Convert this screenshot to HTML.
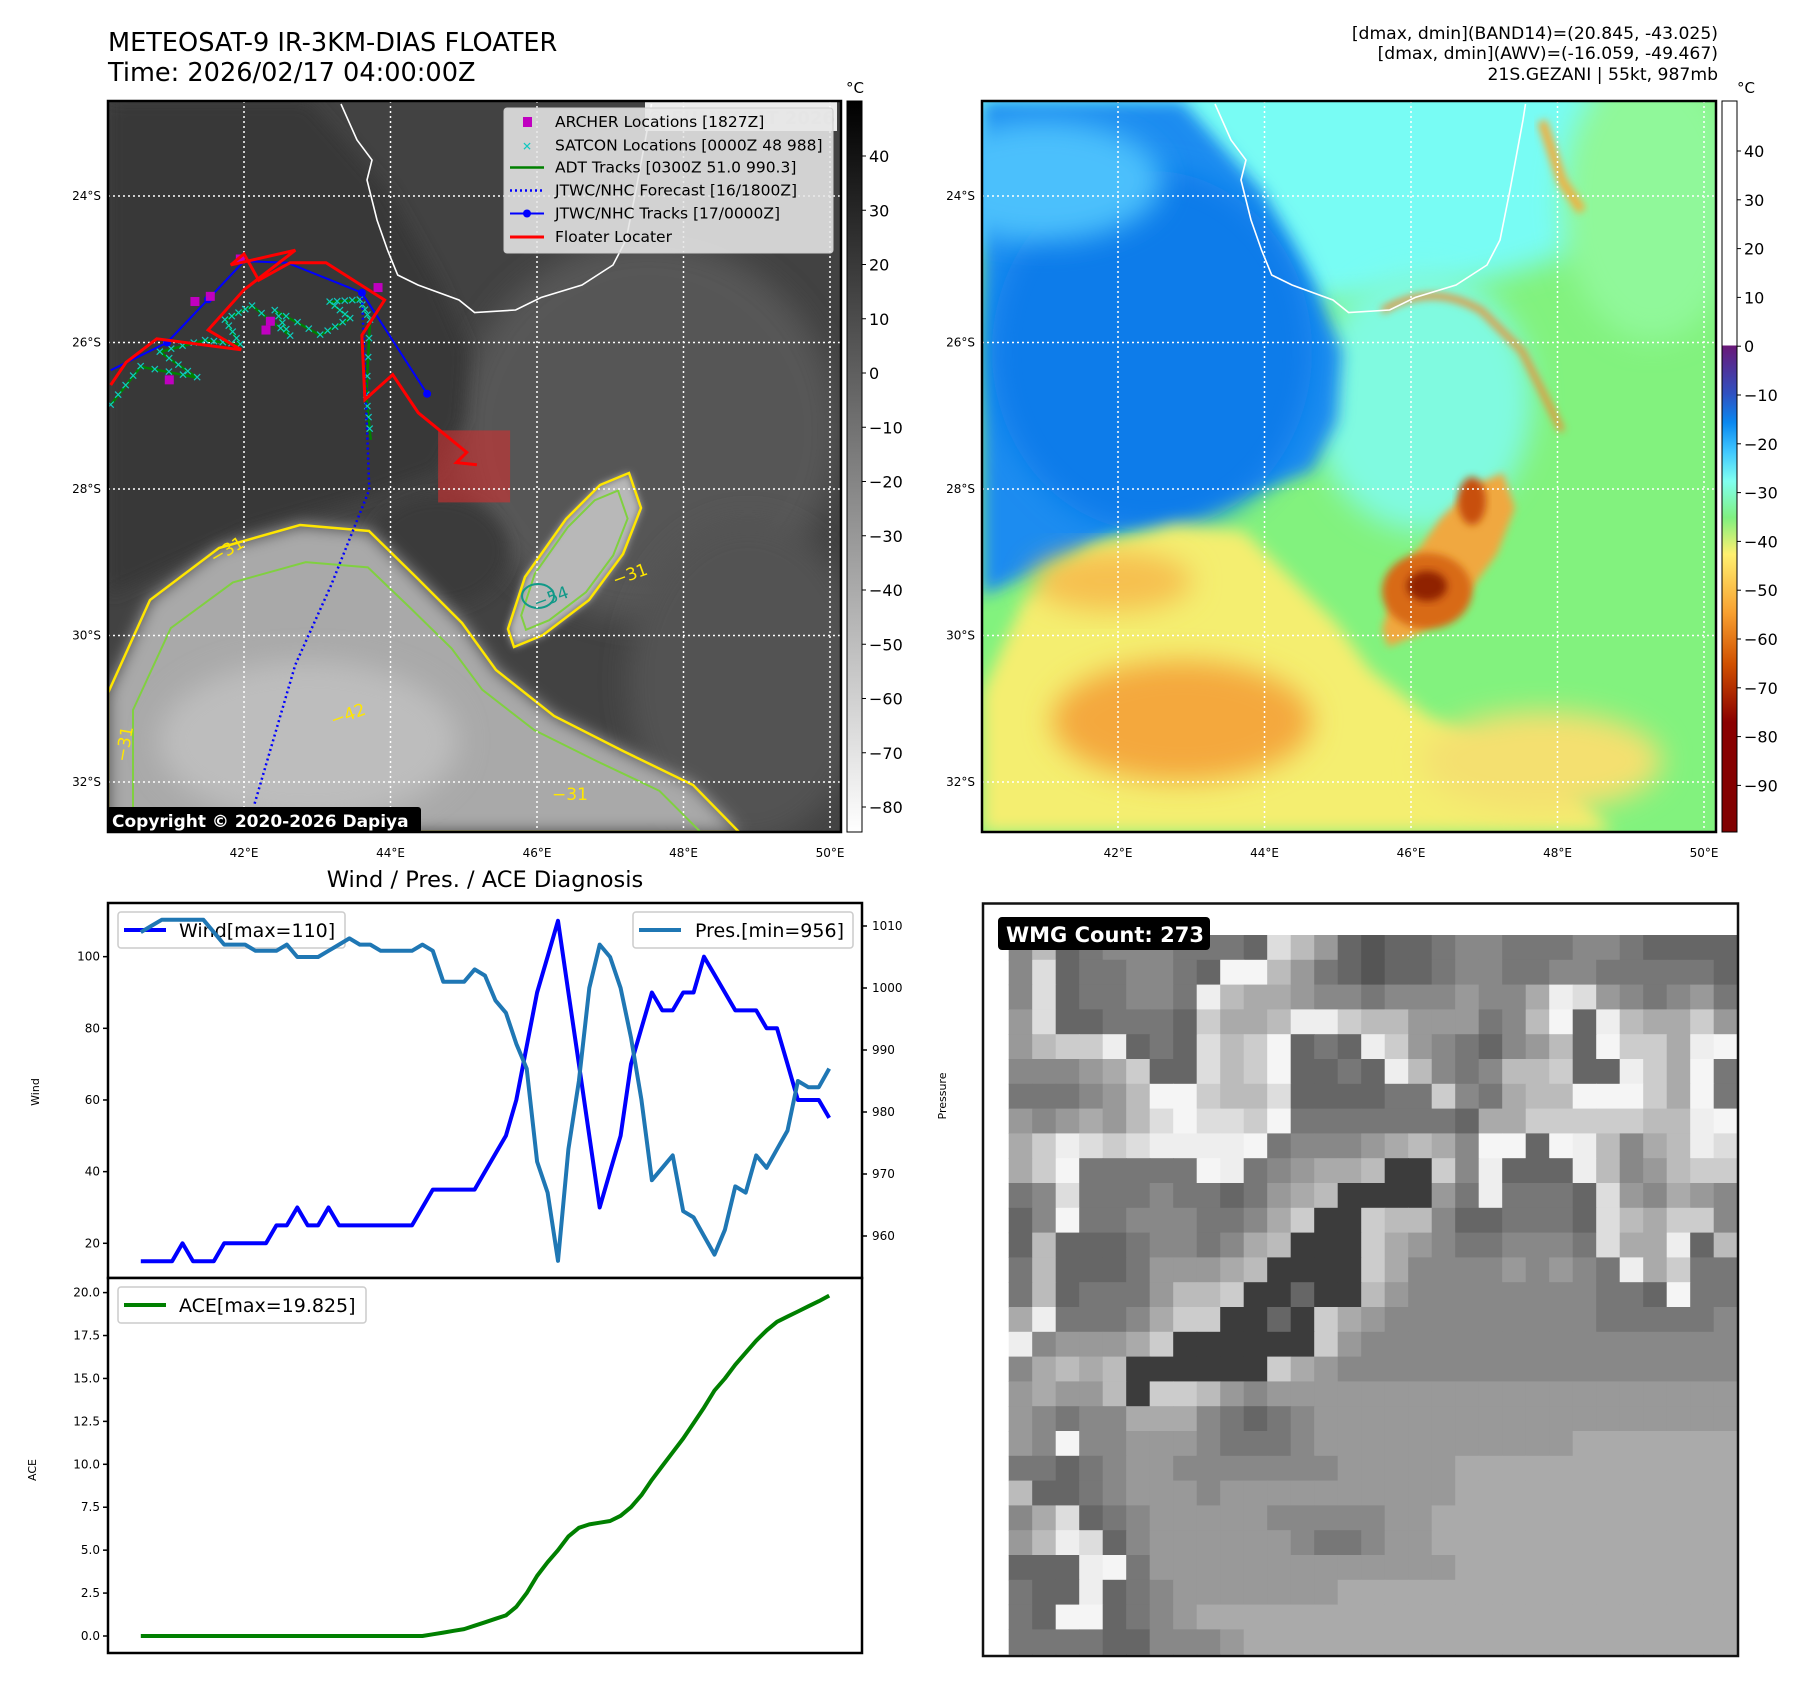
<!DOCTYPE html>
<html><head><meta charset="utf-8">
<style>
html,body{margin:0;padding:0;background:#fff;}
svg{display:block;font-family:"DejaVu Sans","Liberation Sans",sans-serif;}
</style></head>
<body>
<svg id="root" width="1801" height="1690" viewBox="0 0 1801 1690" xmlns="http://www.w3.org/2000/svg">
<defs>
  <filter id="blur8" x="-20%" y="-20%" width="140%" height="140%"><feGaussianBlur stdDeviation="8"/></filter>
  <filter id="blur4" x="-20%" y="-20%" width="140%" height="140%"><feGaussianBlur stdDeviation="4"/></filter>
  <filter id="blur14" x="-30%" y="-30%" width="160%" height="160%"><feGaussianBlur stdDeviation="14"/></filter>
  <linearGradient id="cbGray" x1="0" y1="0" x2="0" y2="1">
    <stop offset="0" stop-color="#000"/><stop offset="1" stop-color="#fff"/>
  </linearGradient>
  <linearGradient id="cbColor" x1="0" y1="0" x2="0" y2="1">
    <stop offset="0" stop-color="#ffffff"/><stop offset="0.3345" stop-color="#ffffff"/>
    <stop offset="0.3346" stop-color="#6a1878"/>
    <stop offset="0.40" stop-color="#3050c0"/>
    <stop offset="0.44" stop-color="#0a88f0"/>
    <stop offset="0.48" stop-color="#40c8ff"/>
    <stop offset="0.52" stop-color="#80fff0"/>
    <stop offset="0.57" stop-color="#80f080"/>
    <stop offset="0.62" stop-color="#fff070"/>
    <stop offset="0.70" stop-color="#f8a030"/>
    <stop offset="0.77" stop-color="#d05000"/>
    <stop offset="0.85" stop-color="#8a0000"/>
    <stop offset="1" stop-color="#800000"/>
  </linearGradient>
  <clipPath id="clipL"><rect x="108" y="101" width="733" height="731"/></clipPath>
  <clipPath id="clipR"><rect x="982" y="101" width="734" height="731"/></clipPath>
</defs>

<text x="108" y="51" font-size="25.6">METEOSAT-9 IR-3KM-DIAS FLOATER</text>
<text x="108" y="81" font-size="25.6">Time: 2026/02/17 04:00:00Z</text>
<g font-size="17.2" text-anchor="end">
  <text x="1718" y="39">[dmax, dmin](BAND14)=(20.845, -43.025)</text>
  <text x="1718" y="59">[dmax, dmin](AWV)=(-16.059, -49.467)</text>
  <text x="1718" y="80">21S.GEZANI | 55kt, 987mb</text>
</g>

<g id="mapL" clip-path="url(#clipL)"></g>
<g id="mapR" clip-path="url(#clipR)"></g>
<g id="mapDecor"></g>
<g id="charts"></g>
<g id="wmg"></g>
</svg>

<script>
// ---------- chart data ----------
const windValues = [15,15,15,15,20,15,15,15,20,20,20,20,20,25,25,30,25,25,30,25,25,25,25,25,25,25,25,30,35,35,35,35,35,40,45,50,60,75,90,100,110,90,70,50,30,40,50,70,80,90,85,85,90,90,100,95,90,85,85,85,80,80,70,60,60,60,55];
const presValues = [1009,1010,1011,1011,1011,1011,1011,1009,1007,1007,1007,1006,1006,1006,1007,1005,1005,1005,1006,1007,1008,1007,1007,1006,1006,1006,1006,1007,1006,1001,1001,1001,1003,1002,998,996,991,987,972,967,956,974,985,1000,1007,1005,1000,992,982,969,971,973,964,963,960,957,961,968,967,973,971,974,977,985,984,984,987];
const aceValues = [0,0,0,0,0,0,0,0,0,0,0,0,0,0,0,0,0,0,0,0,0,0,0,0,0,0,0,0,0.1,0.2,0.3,0.4,0.6,0.8,1.0,1.2,1.7,2.5,3.5,4.3,5.0,5.8,6.3,6.5,6.6,6.7,7.0,7.5,8.2,9.1,9.9,10.7,11.5,12.4,13.3,14.3,15.0,15.8,16.5,17.2,17.8,18.3,18.6,18.9,19.2,19.5,19.825];
const windTicks = [20,40,60,80,100];
const presTicks = [960,970,980,990,1000,1010];
const aceTicks = [0,2.5,5,7.5,10,12.5,15,17.5,20];
const irCbTicks = [40,30,20,10,0,-10,-20,-30,-40,-50,-60,-70,-80];
const awvCbTicks = [40,30,20,10,0,-10,-20,-30,-40,-50,-60,-70,-80,-90];
const lonTicks = [42,44,46,48,50];
const latTicks = [24,26,28,30,32];
// WMG cell brightness levels (hex digit per cell)
const wmgRows = [
"8b678887776db9656678877788766666",
"8d6778876ffb9765667887788777776",
"8d677887eba a988788898 8aed987897",
"9d667776caabeecbb99978bf6ebaac9",
"9bcce676dbcf676ec987689b6fccaef",
"8889ac66dbcf6676eb878bbc66ecaf7",
"77789bffcbbd666677c87abbfffcaf7",
"989a9bdfddcf7777777 6aacccccbbef",
"acedcdeeeef78889aba8ff6feb8abed",
"acf77777fe789aab33c8e666eb89bcc",
"78d777877679ab33339 7e7776d98a98",
"68f77888778ac33cbb8667776dbacc8",
"6b66678878ab333ca98778887daae6b",
"7b6667999ab3333ca888898987eac77",
"7b67779bbc33633b988888888776f77",
"ae7778acc3363ca98888888887777 78",
"e8999ac333333c988888888888888888",
"8abab333333ca9888888888888888888",
"9a99b3ccb98999999999999999999 99",
"98788aaa876789999999999999999999",
"98f889998777899999999999aaaaaaaa",
"7767899888888899999aaaaaaaaaaaaa",
"b667899989999999999aaaaaaaaaaaaa",
"8ad678999998888899aaaaaaaaaaaaaa",
"9bed68999999877899aaaaaaaaaaaaaa",
"666ef79999999999999aaaaaaaaaaaaa",
"766e6789999999aaaaaaaaaaaaaaaaaa",
"76ff6789aaaaaaaaaaaaaaaaaaaaaaaa",
"7777668889aaaaaaaaaaaaaaaaaaaaaa"
];
// map tracks (lon, lat-south)
const jtwcTrackLon = [40.18,40.95,41.51,42.0,42.59,43.61,44.5];
const jtwcTrackLat = [26.38,26.0,25.41,24.89,24.91,25.32,26.7];
const jtwcFcstLon = [43.61,43.71,43.19,42.70,42.14];
const jtwcFcstLat = [25.32,28.01,29.31,30.4,32.31];
const floaterLon = [40.18,40.39,40.81,41.96,41.51,42.0,42.70,41.82,42.0,42.20,42.63,43.12,43.92,43.61,43.65,44.03,44.38,45.04,44.90,45.18];
const floaterLat = [26.58,26.27,25.95,26.10,25.83,25.28,24.74,24.94,24.79,25.15,24.91,24.91,25.42,25.90,26.78,26.44,26.96,27.50,27.64,27.67];
const adtLon = [40.18,40.59,41.36,40.85,41.47,41.95,41.74,42.11,42.63,42.42,43.04,43.45,43.17,43.58,43.72,43.67,43.73];
const adtLat = [26.85,26.33,26.48,26.13,25.97,26.03,25.69,25.50,25.91,25.56,25.90,25.67,25.45,25.42,25.69,26.72,27.33];
const archerLon = [41.33,41.54,41.95,42.30,42.36,43.83,40.98];
const archerLat = [25.44,25.37,24.86,25.83,25.71,25.25,26.51];

// ---------- helpers ----------
const NS='http://www.w3.org/2000/svg';
function mk(tag, attrs, parent){const e=document.createElementNS(NS,tag);for(const k in attrs)e.setAttribute(k,attrs[k]);if(parent)parent.appendChild(e);return e;}
function txt(parent,x,y,s,size,anchor,extra){const t=mk('text',Object.assign({x:x,y:y,'font-size':size,'text-anchor':anchor||'start'},extra||{}),parent);t.textContent=s;return t;}
function pts(arr){return arr.map(p=>p[0].toFixed(1)+','+p[1].toFixed(1)).join(' ');}

const MAPS={L:{x0:108,y0:101},R:{x0:982,y0:101}};
function px(m,lon){return MAPS[m].x0+136+(lon-42)*73.25;}
function py(m,lat){return MAPS[m].y0+95+(lat-24)*73.25;}

function loc(m,arr){return arr.map(p=>[MAPS[m].x0+p[0],MAPS[m].y0+p[1]]);}
const lightArea=[[0,592],[42,499],[111,447],[192,424],[261,430],[308,476],[354,522],[388,569],[446,615],[515,650],[585,684],[631,731],[0,731]];
const bandCloud=[[400,528],[417,476],[458,418],[492,384],[521,372],[533,407],[515,453],[481,499],[435,534],[406,546]];
const blueArea=[[0,0],[200,0],[280,90],[330,180],[360,250],[355,320],[330,370],[260,395],[140,430],[0,495]];

function drawMap(m){
  const g=document.getElementById(m==='L'?'mapL':'mapR');
  const o=MAPS[m];
  const gray=(m==='L');
  mk('rect',{x:o.x0,y:o.y0,width:734,height:731,fill:gray?'#424242':'#82f27e'},g);
  if(gray){
    mk('ellipse',{cx:o.x0+540,cy:o.y0+330,rx:190,ry:190,fill:'#575757',filter:'url(#blur14)'},g);
    mk('ellipse',{cx:o.x0+640,cy:o.y0+580,rx:120,ry:160,fill:'#525252',filter:'url(#blur14)'},g);
    mk('polygon',{points:pts(loc(m,blueArea)),fill:'#383838',filter:'url(#blur8)'},g);
    mk('ellipse',{cx:o.x0+330,cy:o.y0+450,rx:70,ry:55,fill:'#3a3a3a',filter:'url(#blur8)'},g);
    mk('polygon',{points:pts(loc(m,lightArea)),fill:'#a9a9a9',filter:'url(#blur8)'},g);
    mk('ellipse',{cx:o.x0+200,cy:o.y0+640,rx:150,ry:80,fill:'#bdbdbd',filter:'url(#blur14)'},g);
    mk('polygon',{points:pts(loc(m,bandCloud)),fill:'#b8b8b8',filter:'url(#blur4)'},g);
    mk('polygon',{points:pts(loc(m,lightArea)),fill:'none',stroke:'#ffe600','stroke-width':2.5},g);
    mk('polygon',{points:pts(loc(m,bandCloud)),fill:'none',stroke:'#ffe600','stroke-width':2.5},g);
    const inner=lightArea.map(p=>[p[0]*0.9+25,p[1]*0.88+88]);
    mk('polygon',{points:pts(loc(m,inner)),fill:'none',stroke:'#80d040','stroke-width':2},g);
    const innerB=bandCloud.map(p=>[(p[0]-466)*0.8+466,(p[1]-460)*0.8+460]);
    mk('polygon',{points:pts(loc(m,innerB)),fill:'none',stroke:'#80d040','stroke-width':2},g);
    mk('ellipse',{cx:o.x0+430,cy:o.y0+495,rx:16,ry:12,fill:'none',stroke:'#119988','stroke-width':2},g);
    mk('rect',{x:px(m,44.65),y:py(m,27.2),width:72,height:72,fill:'#d03030','fill-opacity':0.6},g);
  } else {
    mk('ellipse',{cx:o.x0+300,cy:o.y0+60,rx:380,ry:140,fill:'#78fcf4',filter:'url(#blur14)'},g);
    mk('ellipse',{cx:o.x0+440,cy:o.y0+300,rx:110,ry:130,fill:'#80fae0',filter:'url(#blur14)'},g);
    mk('ellipse',{cx:o.x0+670,cy:o.y0+100,rx:90,ry:140,fill:'#90f89a',filter:'url(#blur14)'},g);
    mk('polygon',{points:pts(loc(m,blueArea)),fill:'#1a8cf0',filter:'url(#blur8)'},g);
    mk('ellipse',{cx:o.x0+170,cy:o.y0+250,rx:160,ry:180,fill:'#0d7cea',filter:'url(#blur14)'},g);
    mk('ellipse',{cx:o.x0+60,cy:o.y0+80,rx:120,ry:60,fill:'#4cc0fc',filter:'url(#blur14)'},g);
    mk('polygon',{points:pts(loc(m,lightArea)),fill:'#f4ee70',filter:'url(#blur8)'},g);
    mk('ellipse',{cx:o.x0+200,cy:o.y0+620,rx:130,ry:60,fill:'#f4a83c',filter:'url(#blur14)'},g);
    mk('ellipse',{cx:o.x0+130,cy:o.y0+480,rx:80,ry:30,fill:'#f6c050',filter:'url(#blur14)'},g);
    mk('polygon',{points:pts(loc(m,bandCloud)),fill:'#f0a840',filter:'url(#blur4)'},g);
    mk('ellipse',{cx:o.x0+445,cy:o.y0+490,rx:45,ry:38,fill:'#d86a18',filter:'url(#blur4)'},g);
    mk('ellipse',{cx:o.x0+445,cy:o.y0+485,rx:20,ry:15,fill:'#902000',filter:'url(#blur4)'},g);
    mk('ellipse',{cx:o.x0+490,cy:o.y0+400,rx:14,ry:24,fill:'#c85010',filter:'url(#blur4)'},g);
    mk('path',{d:`M${o.x0+400} ${o.y0+210} Q${o.x0+450} ${o.y0+180} ${o.x0+500} ${o.y0+210} L${o.x0+540} ${o.y0+250} L${o.x0+580} ${o.y0+330}`,fill:'none',stroke:'#f08a30','stroke-width':6,filter:'url(#blur4)'},g);
    mk('path',{d:`M${o.x0+560} ${o.y0+20} L${o.x0+580} ${o.y0+80} L${o.x0+600} ${o.y0+110}`,fill:'none',stroke:'#f0b040','stroke-width':10,filter:'url(#blur4)'},g);
    mk('ellipse',{cx:o.x0+560,cy:o.y0+660,rx:120,ry:50,fill:'#f4e070',filter:'url(#blur14)'},g);
  }
  const coast=[[233,3],[249,39],[264,59],[259,79],[269,119],[279.5,149],[289.7,174],[310,184],[351,199],[366.6,211.5],[407.6,209],[433,196.5],[474,184],[505,164],[518,139],[528,89],[541,19],[543.5,3]];
  mk('polyline',{points:pts(loc(m,coast)),fill:'none',stroke:'#fff','stroke-width':1.6},g);
  lonTicks.forEach(v=>{const x=px(m,v);const l=mk('line',{x1:x,y1:o.y0,x2:x,y2:o.y0+731,stroke:'#fff','stroke-width':1.5,'stroke-dasharray':'2,3'},g);
    
    });
  latTicks.forEach(v=>{const y=py(m,v);const l=mk('line',{x1:o.x0,y1:y,x2:o.x0+734,y2:y,stroke:'#fff','stroke-width':1.5,'stroke-dasharray':'2,3'},g);
    
    });
}
drawMap('L'); drawMap('R');

(function(){
  const g=document.getElementById('mapL');
  const P=(lons,lats)=>lons.map((v,i)=>[px('L',v),py('L',lats[i])]);
  const adt=mk('polyline',{points:pts(P(adtLon,adtLat)),fill:'none',stroke:'#008000','stroke-width':2.5},g);
  
  
  for(let i=0;i<adtLon.length-1;i++){
    for(let k=0;k<4;k++){
      const f=k/4;
      const x=px('L',adtLon[i]+(adtLon[i+1]-adtLon[i])*f), y=py('L',adtLat[i]+(adtLat[i+1]-adtLat[i])*f);
      const s=mk('text',{x:x,y:y+4,'font-size':12,'text-anchor':'middle',fill:'#10c8c0','font-weight':'bold'},g);s.textContent='✕';
      
      
    }
  }
  const fc=mk('polyline',{points:pts(P(jtwcFcstLon,jtwcFcstLat)),fill:'none',stroke:'#0000ff','stroke-width':2.5,'stroke-dasharray':'2,3'},g);
  
  
  const tr=mk('polyline',{points:pts(P(jtwcTrackLon,jtwcTrackLat)),fill:'none',stroke:'#0000ff','stroke-width':2},g);
  
  
  [1,2,5,6].forEach(i=>{const c=mk('circle',{cx:px('L',jtwcTrackLon[i]),cy:py('L',jtwcTrackLat[i]),r:4,fill:'#0000ff'},g);
    
    });
  archerLon.forEach((v,i)=>{const r=mk('rect',{x:px('L',v)-4.5,y:py('L',archerLat[i])-4.5,width:9,height:9,fill:'#c000c0'},g);
    
    });
  const fl=mk('polyline',{points:pts(P(floaterLon,floaterLat)),fill:'none',stroke:'#ff0000','stroke-width':3},g);
  
  
  [['−31',230,555,-30],['−31',632,580,-20],['−54',553,603,-20],['−31',570,800,0],['−31',130,745,-80],['−42',350,720,-20]].forEach(a=>{
    const t=txt(g,a[1],a[2],a[0],17,'middle',{fill:a[0]==='−54'?'#119988':'#ffe600',transform:`rotate(${a[3]} ${a[1]} ${a[2]})`});
    
    });
  const wm=mk('rect',{x:645,y:102,width:192,height:29,fill:'#fff','fill-opacity':0.9},g);
  
  
  const wt=txt(g,741,124,'© EUMETSAT 2026',18,'middle',{fill:'#d8d8d8','font-weight':'bold'});
  
  
  const lg=mk('g',{},g);
  
  
  mk('rect',{x:504,y:108,width:329,height:145,rx:3,fill:'#e6e6e6','fill-opacity':0.88,stroke:'#ccc'},lg);
  const rows=[122,145.5,167.5,190.5,213.5,237];
  const labels=['ARCHER Locations [1827Z]','SATCON Locations [0000Z 48 988]','ADT Tracks [0300Z 51.0 990.3]','JTWC/NHC Forecast [16/1800Z]','JTWC/NHC Tracks [17/0000Z]','Floater Locater'];
  mk('rect',{x:523,y:rows[0]-5,width:9,height:10,fill:'#c000c0'},lg);
  txt(lg,527,rows[1]+5,'✕',12,'middle',{fill:'#10c8c0','font-weight':'bold'});
  mk('line',{x1:510,y1:rows[2],x2:544,y2:rows[2],stroke:'#008000','stroke-width':2.5},lg);
  mk('line',{x1:510,y1:rows[3],x2:544,y2:rows[3],stroke:'#0000ff','stroke-width':2.5,'stroke-dasharray':'2,3'},lg);
  mk('line',{x1:510,y1:rows[4],x2:544,y2:rows[4],stroke:'#0000ff','stroke-width':2},lg);
  mk('circle',{cx:527,cy:rows[4],r:4,fill:'#0000ff'},lg);
  mk('line',{x1:510,y1:rows[5],x2:544,y2:rows[5],stroke:'#ff0000','stroke-width':3},lg);
  labels.forEach((s,i)=>txt(lg,555,rows[i]+5,s,15.5,'start'));
  const cb=mk('rect',{x:107,y:807,width:314,height:26,rx:3,fill:'#000'},g);
  
  
  const ct=txt(g,112,827,'Copyright © 2020-2026 Dapiya',17,'start',{fill:'#fff','font-weight':'bold'});
  
  
})();

(function(){
  const g=document.getElementById('mapDecor');
  ['L','R'].forEach(m=>{
    const o=MAPS[m];
    const f=mk('rect',{x:o.x0,y:o.y0,width:m==='L'?733:734,height:731,fill:'none',stroke:'#000','stroke-width':2.5},g);
    
    
    lonTicks.forEach(v=>{const t=txt(g,px(m,v),857,v+'°E',12,'middle');
      
      });
    latTicks.forEach(v=>{const t=txt(g,o.x0-7,py(m,v)+4,v+'°S',12,'end');
      
      });
  });
  const c1=mk('rect',{x:847,y:101,width:15,height:731,fill:'url(#cbGray)',stroke:'#000','stroke-width':1},g);
  
  
  txt(g,855,93,'°C',15,'middle');
  irCbTicks.forEach(v=>{const y=156+(40-v)*5.425;mk('line',{x1:862,y1:y,x2:866,y2:y,stroke:'#000'},g);
    const t=txt(g,869,y+6,String(v).replace('-','−'),16,'start');
    
    });
  const c2=mk('rect',{x:1722,y:101,width:15,height:731,fill:'url(#cbColor)',stroke:'#000','stroke-width':1},g);
  
  
  txt(g,1746,93,'°C',15,'middle');
  awvCbTicks.forEach(v=>{const y=151+(40-v)*4.88;mk('line',{x1:1737,y1:y,x2:1741,y2:y,stroke:'#000'},g);
    const t=txt(g,1744,y+6,String(v).replace('-','−'),16,'start');
    
    });
})();

// ---------- time series ----------
const X0=140.8, DX=10.43;
function xi(i){return X0+i*DX;}
function yWind(v){return 1243.3-(v-20)*3.583;}
function yPres(v){return 1236-(v-960)*6.2;}
function yAce(v){return 1636-v*17.17;}
(function(){
  const g=document.getElementById('charts');
  txt(g,485,887,'Wind / Pres. / ACE Diagnosis',22.5,'middle');
  const f1=mk('rect',{x:108,y:903,width:754,height:375,fill:'#fff',stroke:'#000','stroke-width':2.5},g);
  
  
  const f2=mk('rect',{x:108,y:1278,width:754,height:375,fill:'#fff',stroke:'#000','stroke-width':2.5},g);
  
  
  windTicks.forEach(v=>{const y=yWind(v);mk('line',{x1:103,y1:y,x2:108,y2:y,stroke:'#000','stroke-width':1.5},g);
    const t=txt(g,100,y+4,String(v),12,'end');
    
    });
  presTicks.forEach(v=>{const y=yPres(v);mk('line',{x1:862,y1:y,x2:867,y2:y,stroke:'#000','stroke-width':1.5},g);
    const t=txt(g,872,y+4,String(v),12,'start');
    
    });
  aceTicks.forEach(v=>{const y=yAce(v);mk('line',{x1:103,y1:y,x2:108,y2:y,stroke:'#000','stroke-width':1.5},g);
    const t=txt(g,100,y+4,v.toFixed(1),12,'end');
    
    });
  txt(g,39,1092,'Wind',11,'middle',{transform:'rotate(-90 39 1092)'});
  txt(g,946,1096,'Pressure',11,'middle',{transform:'rotate(-90 946 1096)'});
  txt(g,36,1470,'ACE',11,'middle',{transform:'rotate(-90 36 1470)'});

  const wl=mk('polyline',{points:pts(windValues.map((v,i)=>[xi(i),yWind(v)])),fill:'none',stroke:'#0000ff','stroke-width':4,'stroke-linejoin':'round'},g);
  
  
  const l1=mk('g',{},g);
  
  
  mk('rect',{x:118,y:912,width:227,height:36,rx:3,fill:'#fff','fill-opacity':0.8,stroke:'#ccc','stroke-width':1.5},l1);
  mk('line',{x1:124,y1:930,x2:166,y2:930,stroke:'#0000ff','stroke-width':4},l1);
  txt(l1,179,937,'Wind[max=110]',19,'start');
  const pl=mk('polyline',{points:pts(presValues.map((v,i)=>[xi(i),yPres(v)])),fill:'none',stroke:'#1f77b4','stroke-width':4,'stroke-linejoin':'round'},g);
  
  
  const l2=mk('g',{},g);
  
  
  mk('rect',{x:633,y:912,width:220,height:36,rx:3,fill:'#fff','fill-opacity':0.8,stroke:'#ccc','stroke-width':1.5},l2);
  mk('line',{x1:639,y1:930,x2:681,y2:930,stroke:'#1f77b4','stroke-width':4},l2);
  txt(l2,695,937,'Pres.[min=956]',19,'start');
  const al=mk('polyline',{points:pts(aceValues.map((v,i)=>[xi(i),yAce(v)])),fill:'none',stroke:'#008000','stroke-width':4,'stroke-linejoin':'round'},g);
  
  
  const l3=mk('g',{},g);
  
  
  mk('rect',{x:118,y:1287,width:248,height:36,rx:3,fill:'#fff','fill-opacity':0.8,stroke:'#ccc','stroke-width':1.5},l3);
  mk('line',{x1:124,y1:1305,x2:166,y2:1305,stroke:'#008000','stroke-width':4},l3);
  txt(l3,179,1312,'ACE[max=19.825]',19,'start');
})();

// ---------- WMG heatmap ----------
(function(){
  const g=document.getElementById('wmg');
  mk('rect',{x:983,y:903.5,width:755,height:752.5,fill:'#fff'},g);
  const GX=1008.7, CW=23.5, GY=935, RH=24.8;
  wmgRows.forEach((row,r)=>{
    let cells=row.replace(/ /g,'').split('');
    while(cells.length<31)cells.push(cells[cells.length-1]);
    cells.slice(0,31).forEach((ch,c)=>{
      const lv=parseInt(ch,16);
      const v=lv===3?60:Math.min(245,lv*17);
      const cell=mk('rect',{x:(GX+c*CW).toFixed(1),y:(GY+r*RH).toFixed(1),width:CW+0.6,height:RH+0.6,fill:`rgb(${v},${v},${v})`},g);
      
      
    });
  });
  const fr=mk('rect',{x:983,y:903.5,width:755,height:752.5,fill:'none',stroke:'#111','stroke-width':2.5},g);
  
  
  const lb=mk('rect',{x:998,y:917,width:212,height:33,rx:4,fill:'#000'},g);
  
  
  const lt=txt(g,1006,942,'WMG Count: 273',21,'start',{fill:'#fff','font-weight':'bold'});
  
  
})();
</script>
</body></html>
